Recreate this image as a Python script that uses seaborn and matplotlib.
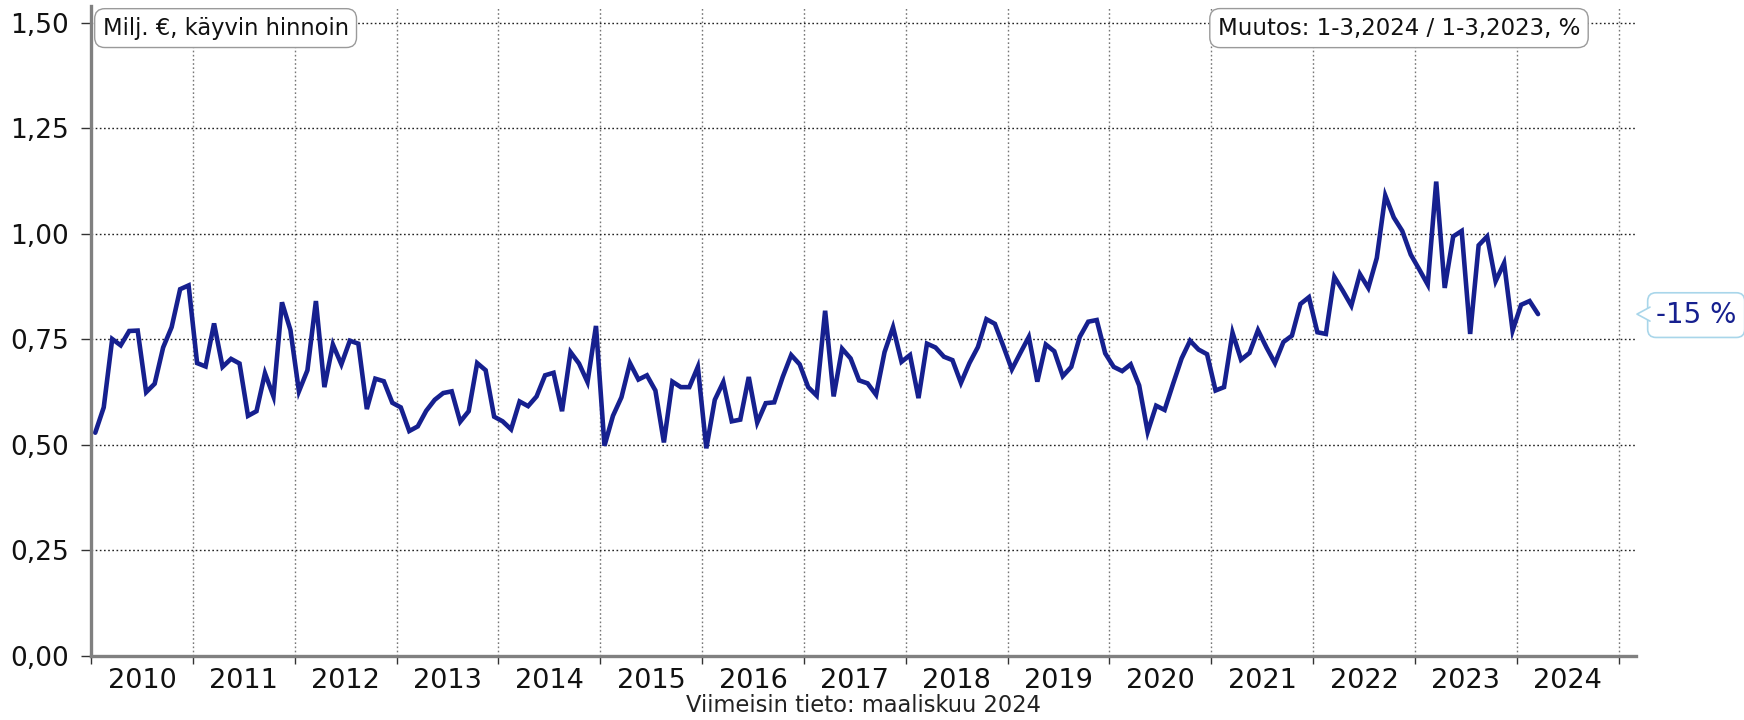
import matplotlib
matplotlib.use("Agg")
import matplotlib.pyplot as plt
import numpy as np
import pandas as pd
import seaborn as sns
from matplotlib.lines import Line2D
from matplotlib.patches import Polygon
from matplotlib.ticker import FixedLocator, FuncFormatter
from matplotlib.transforms import IdentityTransform, offset_copy

# monthly values, Jan 2010 .. Mar 2024 (milj. €)
monthly_values = [
    0.529, 0.589, 0.751, 0.736, 0.770, 0.771, 0.625, 0.645, 0.731, 0.779, 0.869, 0.878,  # 2010
    0.694, 0.686, 0.788, 0.685, 0.704, 0.693, 0.569, 0.580, 0.670, 0.615, 0.838, 0.772,  # 2011
    0.627, 0.677, 0.841, 0.637, 0.738, 0.691, 0.747, 0.740, 0.585, 0.657, 0.651, 0.600,  # 2012
    0.589, 0.533, 0.544, 0.581, 0.607, 0.623, 0.627, 0.555, 0.580, 0.694, 0.677, 0.567,  # 2013
    0.556, 0.537, 0.603, 0.592, 0.615, 0.665, 0.671, 0.580, 0.720, 0.693, 0.649, 0.782,  # 2014
    0.498, 0.569, 0.613, 0.694, 0.655, 0.665, 0.629, 0.506, 0.650, 0.637, 0.637, 0.685,  # 2015
    0.492, 0.607, 0.649, 0.556, 0.560, 0.661, 0.553, 0.599, 0.601, 0.661, 0.713, 0.691,  # 2016
    0.637, 0.617, 0.818, 0.615, 0.728, 0.705, 0.653, 0.646, 0.619, 0.720, 0.779, 0.697,  # 2017
    0.713, 0.611, 0.740, 0.731, 0.709, 0.701, 0.647, 0.694, 0.732, 0.798, 0.787, 0.734,  # 2018
    0.679, 0.718, 0.756, 0.650, 0.738, 0.722, 0.663, 0.685, 0.756, 0.792, 0.796, 0.717,  # 2019
    0.685, 0.675, 0.691, 0.641, 0.531, 0.593, 0.583, 0.645, 0.705, 0.747, 0.726, 0.715,  # 2020
    0.629, 0.637, 0.766, 0.702, 0.718, 0.772, 0.731, 0.694, 0.744, 0.759, 0.834, 0.850,  # 2021
    0.767, 0.763, 0.898, 0.865, 0.830, 0.905, 0.872, 0.943, 1.091, 1.039, 1.007, 0.951,  # 2022
    0.916, 0.880, 1.124, 0.872, 0.994, 1.007, 0.763, 0.973, 0.994, 0.888, 0.931, 0.771,  # 2023
    0.832, 0.841, 0.810,                                                                  # 2024
]
year_labels = [str(y) for y in range(2010, 2025)]
y_ticks = [0.0, 0.25, 0.50, 0.75, 1.00, 1.25, 1.50]
unit_text = "Milj. €, käyvin hinnoin"
change_title = "Muutos: 1-3,2024 / 1-3,2023, %"
change_value = "-15 %"
footer_text = "Viimeisin tieto: maaliskuu 2024"

LINE = "#16208f"

dates = pd.date_range("2010-01-01", periods=len(monthly_values), freq="MS")
df = pd.DataFrame({
    "x": dates.year + (dates.month - 0.5) / 12.0,
    "value": monthly_values,
})

sns.set_theme(style="white")
plt.rcParams["font.family"] = ["DejaVu Sans"]

fig = plt.figure(figsize=(17.44, 7.2), dpi=100)
ax = fig.add_axes([91 / 1744, 64 / 720, 1545 / 1744, 650 / 720])

sns.lineplot(data=df, x="x", y="value", ax=ax, color=LINE, linewidth=3.3,
             solid_joinstyle="miter", zorder=4)

ax.set_xlim(2010, 2025.17)
ax.set_ylim(0, 1.54)

# gridlines at year boundaries and every 0.25
boundaries = list(range(2010, 2026))
ax.xaxis.set_major_locator(FixedLocator(boundaries))
ax.xaxis.set_minor_locator(FixedLocator([int(y) + 0.5 for y in year_labels]))
ax.xaxis.set_major_formatter(FuncFormatter(lambda v, _: ""))
ax.xaxis.set_minor_formatter(FuncFormatter(lambda v, _: str(int(v))))
ax.yaxis.set_major_locator(FixedLocator(y_ticks))
ax.yaxis.set_major_formatter(FuncFormatter(lambda v, _: f"{v:.2f}".replace(".", ",")))

ax.tick_params(axis="x", which="major", direction="out", length=6, width=1, color="#333333", bottom=True)
ax.tick_params(axis="x", which="minor", length=0, pad=9, labelsize=19.5, labelcolor="#111111", bottom=True)
ax.tick_params(axis="y", which="major", direction="out", length=7, width=1, color="#333333",
               pad=9, labelsize=19, labelcolor="#111111", left=True)

ax.grid(False)
for b in boundaries[1:]:
    ax.axvline(b, color="#777777", linewidth=1.0, linestyle=(0, (1.2, 1.8)), zorder=1)
for t in y_ticks[1:]:
    ax.axhline(t, color="#222222", linewidth=1.0, linestyle=(0, (1.2, 1.8)), zorder=1)

for side in ("top", "right"):
    ax.spines[side].set_visible(False)
for side in ("left", "bottom"):
    ax.spines[side].set_color("#808080")
    ax.spines[side].set_linewidth(2.4)
    ax.spines[side].set_zorder(5)

ax.set_xlabel("")
ax.set_ylabel("")

box_style = dict(boxstyle="round,pad=0.35,rounding_size=0.45", facecolor="white",
                 edgecolor="#9a9a9a", linewidth=1.0)
ax.text(0.0075, 0.966, unit_text, transform=ax.transAxes, ha="left", va="center",
        fontsize=16.3, color="#111111", bbox=box_style, zorder=6)
ax.text(0.8466, 0.966, change_title, transform=ax.transAxes, ha="center", va="center",
        fontsize=16.5, color="#111111", bbox=box_style, zorder=6)

# callout with the change at the last value
last = monthly_values[-1]
trans = ax.get_yaxis_transform()
ax.text(1.0, last, change_value, transform=offset_copy(trans, fig, x=20, y=-1, units="dots"),
        ha="left", va="center", fontsize=20, color=LINE, clip_on=False, zorder=6,
        bbox=dict(boxstyle="round,pad=0.3,rounding_size=0.3", facecolor="white",
                  edgecolor="#a9d6ea", linewidth=1.2))
tip_x, tip_y = trans.transform((1.0, last))
tip_x += 1
pointer = [(tip_x, tip_y), (tip_x + 13, tip_y + 7), (tip_x + 13, tip_y - 7)]
fig.add_artist(Polygon(pointer, closed=True, facecolor="white", edgecolor="none",
                       transform=IdentityTransform(), zorder=7))
fig.add_artist(Line2D([pointer[1][0], pointer[0][0], pointer[2][0]],
                      [pointer[1][1], pointer[0][1], pointer[2][1]],
                      color="#a9d6ea", linewidth=1.2, transform=IdentityTransform(), zorder=8))

fig.text((91 + 1545 / 2) / 1744, 14 / 720, footer_text, ha="center", va="center",
         fontsize=16.3, color="#222222")

fig.savefig("out.png", dpi=100)
plt.close(fig)
